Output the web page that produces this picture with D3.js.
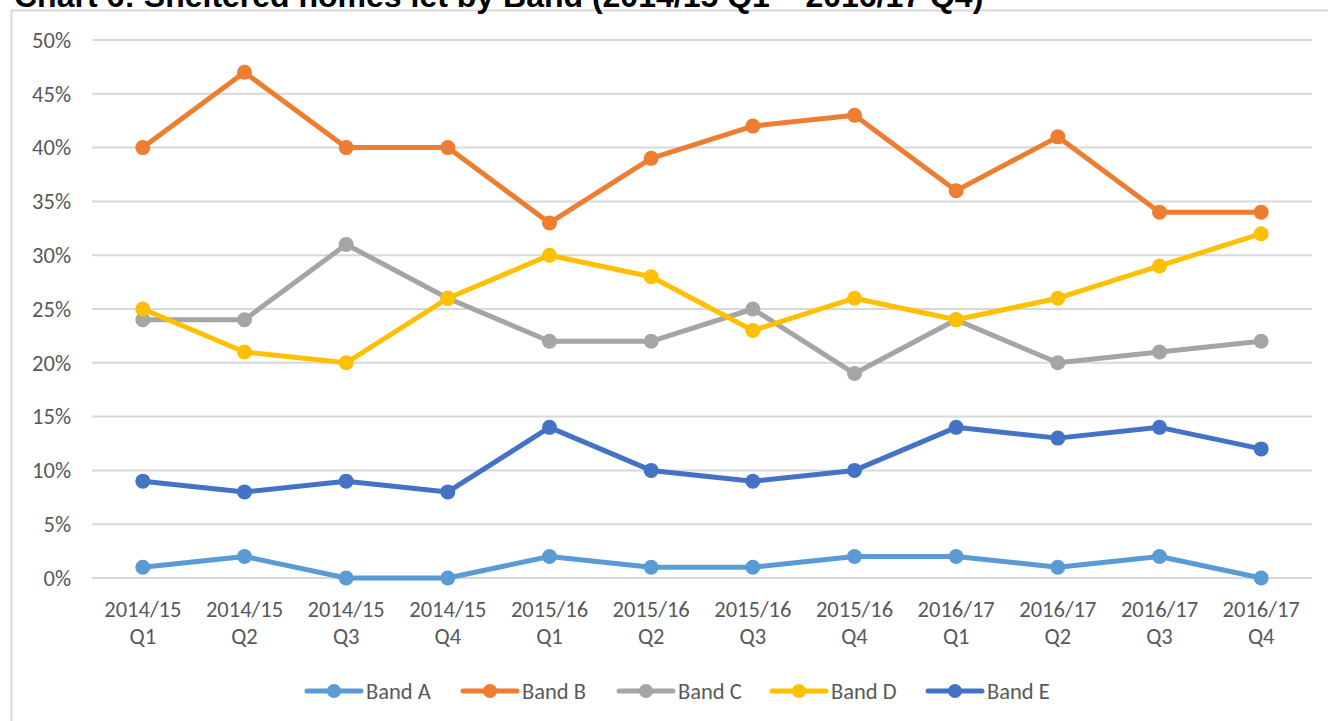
<!DOCTYPE html>
<html>
<head>
  <meta charset="utf-8">
  <script src="https://d3js.org/d3.v7.min.js"></script>
  <style>
    body { margin: 0; background: #fff; }
    .tick-label, .legend-label {
      font-family: Carlito, Calibri, Lato, sans-serif;
      font-size: 22.5px;
      fill: #595959;
    }
    .title {
      font-family: "Liberation Sans", Arial, sans-serif;
      font-weight: bold;
      font-size: 32px;
      fill: #000;
    }
  </style>
</head>
<body>
  <div id="chart"></div>
  <script>
    // data
    var quarters = ["2014/15 Q1", "2014/15 Q2", "2014/15 Q3", "2014/15 Q4",
      "2015/16 Q1", "2015/16 Q2", "2015/16 Q3", "2015/16 Q4",
      "2016/17 Q1", "2016/17 Q2", "2016/17 Q3", "2016/17 Q4"];
    var bandA = [1, 2, 0, 0, 2, 1, 1, 2, 2, 1, 2, 0];
    var bandB = [40, 47, 40, 40, 33, 39, 42, 43, 36, 41, 34, 34];
    var bandC = [24, 24, 31, 26, 22, 22, 25, 19, 24, 20, 21, 22];
    var bandD = [25, 21, 20, 26, 30, 28, 23, 26, 24, 26, 29, 32];
    var bandE = [9, 8, 9, 8, 14, 10, 9, 10, 14, 13, 14, 12];
    var seriesNames = ["Band A", "Band B", "Band C", "Band D", "Band E"];
    var yTicks = [0, 5, 10, 15, 20, 25, 30, 35, 40, 45, 50];

    var colors = ["#5B9BD5", "#ED7D31", "#A5A5A5", "#FFC000", "#4472C4"];
    var series = [bandA, bandB, bandC, bandD, bandE].map(function (vals, i) {
      return { name: seriesNames[i], color: colors[i], values: vals };
    });

    var width = 1328, height = 721;

    var svg = d3.select("#chart").append("svg")
      .attr("width", width)
      .attr("height", height);

    svg.append("rect")
      .attr("width", width).attr("height", height)
      .attr("fill", "#fff");

    // chart frame (only top and left edges show)
    svg.append("path")
      .attr("d", "M11.5," + height + "V10.5H" + width)
      .attr("fill", "none")
      .attr("stroke", "#d9d9d9")
      .attr("stroke-width", 2);

    // title, mostly cut off at the top like in the source
    svg.append("text")
      .attr("class", "title")
      .attr("x", 14)
      .attr("y", 7)
      .text("Chart 6: Sheltered homes let by Band (2014/15 Q1 \u2013 2016/17 Q4)");

    var x = d3.scalePoint()
      .domain(quarters)
      .range([92, 1312])
      .padding(0.5);

    var y = d3.scaleLinear()
      .domain([0, 50])
      .range([578, 40]);

    // gridlines
    svg.append("g")
      .selectAll("line")
      .data(yTicks)
      .enter().append("line")
      .attr("x1", 92)
      .attr("x2", 1312)
      .attr("y1", function (d) { return y(d); })
      .attr("y2", function (d) { return y(d); })
      .attr("stroke", "#d9d9d9")
      .attr("stroke-width", 2);

    // y labels
    svg.append("g")
      .selectAll("text")
      .data(yTicks)
      .enter().append("text")
      .attr("class", "tick-label")
      .attr("x", 71)
      .attr("y", function (d) { return y(d); })
      .attr("dy", "0.35em")
      .attr("text-anchor", "end")
      .text(function (d) { return d + "%"; });

    // x labels, two lines
    var xl = svg.append("g")
      .selectAll("text")
      .data(quarters)
      .enter().append("text")
      .attr("class", "tick-label")
      .attr("text-anchor", "middle")
      .attr("x", function (d) { return x(d); });
    xl.append("tspan")
      .attr("x", function (d) { return x(d); })
      .attr("y", 617)
      .text(function (d) { return d.split(" ")[0]; });
    xl.append("tspan")
      .attr("x", function (d) { return x(d); })
      .attr("y", 644)
      .text(function (d) { return d.split(" ")[1]; });

    var line = d3.line()
      .x(function (d, i) { return x(quarters[i]); })
      .y(function (d) { return y(d); });

    series.forEach(function (s) {
      var g = svg.append("g");
      g.append("path")
        .datum(s.values)
        .attr("fill", "none")
        .attr("stroke", s.color)
        .attr("stroke-width", 5)
        .attr("stroke-linejoin", "round")
        .attr("stroke-linecap", "round")
        .attr("d", line);
      g.selectAll("circle")
        .data(s.values)
        .enter().append("circle")
        .attr("cx", function (d, i) { return x(quarters[i]); })
        .attr("cy", function (d) { return y(d); })
        .attr("r", 7.5)
        .attr("fill", s.color);
    });

    // legend
    var legendX = [305, 461, 617, 770, 926];
    var leg = svg.append("g")
      .selectAll("g")
      .data(series)
      .enter().append("g")
      .attr("transform", function (d, i) { return "translate(" + legendX[i] + ",691)"; });
    leg.append("line")
      .attr("x1", 2).attr("x2", 56)
      .attr("stroke", function (d) { return d.color; })
      .attr("stroke-width", 5)
      .attr("stroke-linecap", "round");
    leg.append("circle")
      .attr("cx", 29)
      .attr("r", 7)
      .attr("fill", function (d) { return d.color; });
    leg.append("text")
      .attr("class", "legend-label")
      .attr("x", 61)
      .attr("dy", "0.35em")
      .text(function (d) { return d.name; });
  </script>
</body>
</html>
